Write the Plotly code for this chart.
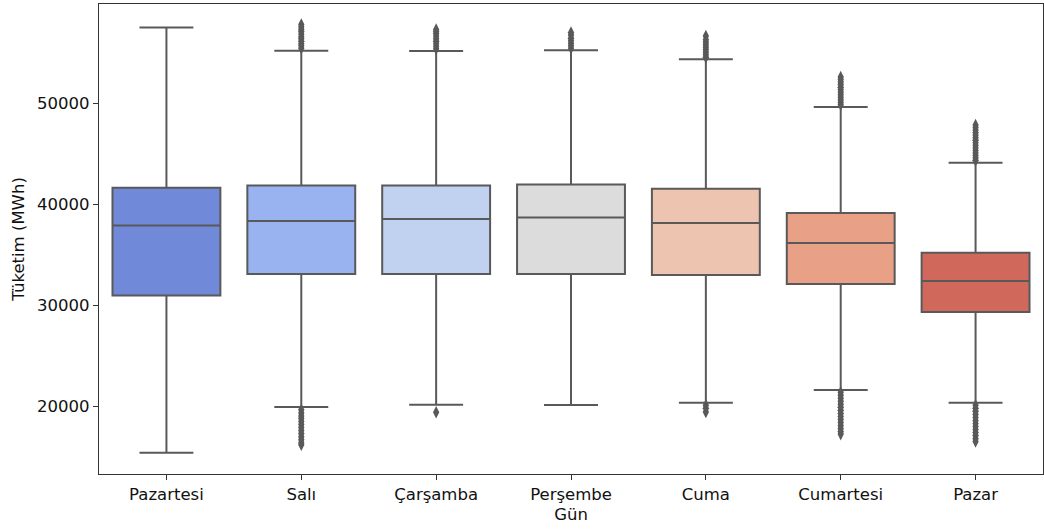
import plotly.graph_objects as go

# Günlük tüketim dağılımı (MWh) – kutu grafiği istatistikleri
days = ["Pazartesi", "Salı", "Çarşamba", "Perşembe", "Cuma", "Cumartesi", "Pazar"]
q1 = [30960, 33100, 33100, 33100, 33000, 32110, 29340]
median = [37900, 38350, 38550, 38700, 38150, 36170, 32410]
q3 = [41650, 41850, 41850, 41950, 41550, 39140, 35200]
lower_whisker = [15400, 19930, 20160, 20130, 20360, 21620, 20360]
upper_whisker = [57500, 55200, 55180, 55250, 54350, 49630, 44120]
colors = ["#7089d8", "#98b3f0", "#c0d2f0", "#dcdcdc", "#ecc4b0", "#e8a086", "#d0695c"]

# Aykırı değerler
outliers = {
    "Pazartesi": [],
    "Salı": [55450, 55700, 55900, 56150, 56400, 56600, 56850, 57100, 57300, 57550, 57800,
             19650, 19350, 19050, 18800, 18500, 18200, 17900, 17600, 17300, 17000, 16700,
             16400, 16200],
    "Çarşamba": [55400, 55650, 55900, 56150, 56400, 56650, 56900, 57100, 57300, 19410],
    "Perşembe": [55450, 55700, 55950, 56200, 56450, 56750, 57000],
    "Cuma": [54550, 54800, 55050, 55300, 55550, 55800, 56050, 56300, 56650,
             20100, 19800, 19450],
    "Cumartesi": [49850, 50100, 50350, 50600, 50850, 51100, 51350, 51600, 51850, 52100,
                  52350, 52600, 21400, 21100, 20800, 20500, 20200, 19900, 19600, 19300,
                  19000, 18700, 18400, 18100, 17800, 17500, 17250],
    "Pazar": [44350, 44600, 44850, 45100, 45350, 45600, 45850, 46100, 46350, 46600, 46850,
              47100, 47350, 47600, 47850, 20100, 19800, 19500, 19200, 18900, 18600, 18300,
              18000, 17700, 17400, 17100, 16800, 16520],
}

line_gray = "#595959"
font_family = "DejaVu Sans, sans-serif"

fig = go.Figure()
for i, d in enumerate(days):
    fig.add_trace(go.Box(
        x=[d], q1=[q1[i]], median=[median[i]], q3=[q3[i]],
        lowerfence=[lower_whisker[i]], upperfence=[upper_whisker[i]],
        width=0.8,
        fillcolor=colors[i], line=dict(color=line_gray, width=2),
        whiskerwidth=0.5, boxpoints=False, showlegend=False, name=d,
    ))
    if outliers[d]:
        fig.add_trace(go.Scatter(
            x=[d] * len(outliers[d]), y=outliers[d], mode="markers",
            marker=dict(symbol="diamond-tall", size=9, color=line_gray,
                        line=dict(width=0)),
            showlegend=False, hoverinfo="y",
        ))

fig.update_layout(
    width=1044, height=531,
    margin=dict(l=99, r=1, t=4, b=57),
    paper_bgcolor="white", plot_bgcolor="white",
    boxmode="overlay",
    font=dict(family=font_family, size=16.5, color="#111111"),
)
fig.update_xaxes(
    type="category", categoryorder="array", categoryarray=days,
    showline=True, mirror=True, linecolor="#333333", linewidth=1.2,
    ticks="outside", ticklen=5, tickcolor="#333333", showgrid=False,
    title=dict(text="Gün", standoff=5, font=dict(size=16.5)),
    range=[-0.5, 6.5],
)
fig.update_yaxes(
    range=[13300, 59830], tickvals=[20000, 30000, 40000, 50000],
    ticktext=["20000", "30000", "40000", "50000"],
    showline=True, mirror=True, linecolor="#333333", linewidth=1.2,
    ticks="outside", ticklen=5, tickcolor="#333333", showgrid=False, zeroline=False,
    title=dict(text="Tüketim (MWh)", standoff=8, font=dict(size=16.5)),
)

fig.write_html("out.html")
